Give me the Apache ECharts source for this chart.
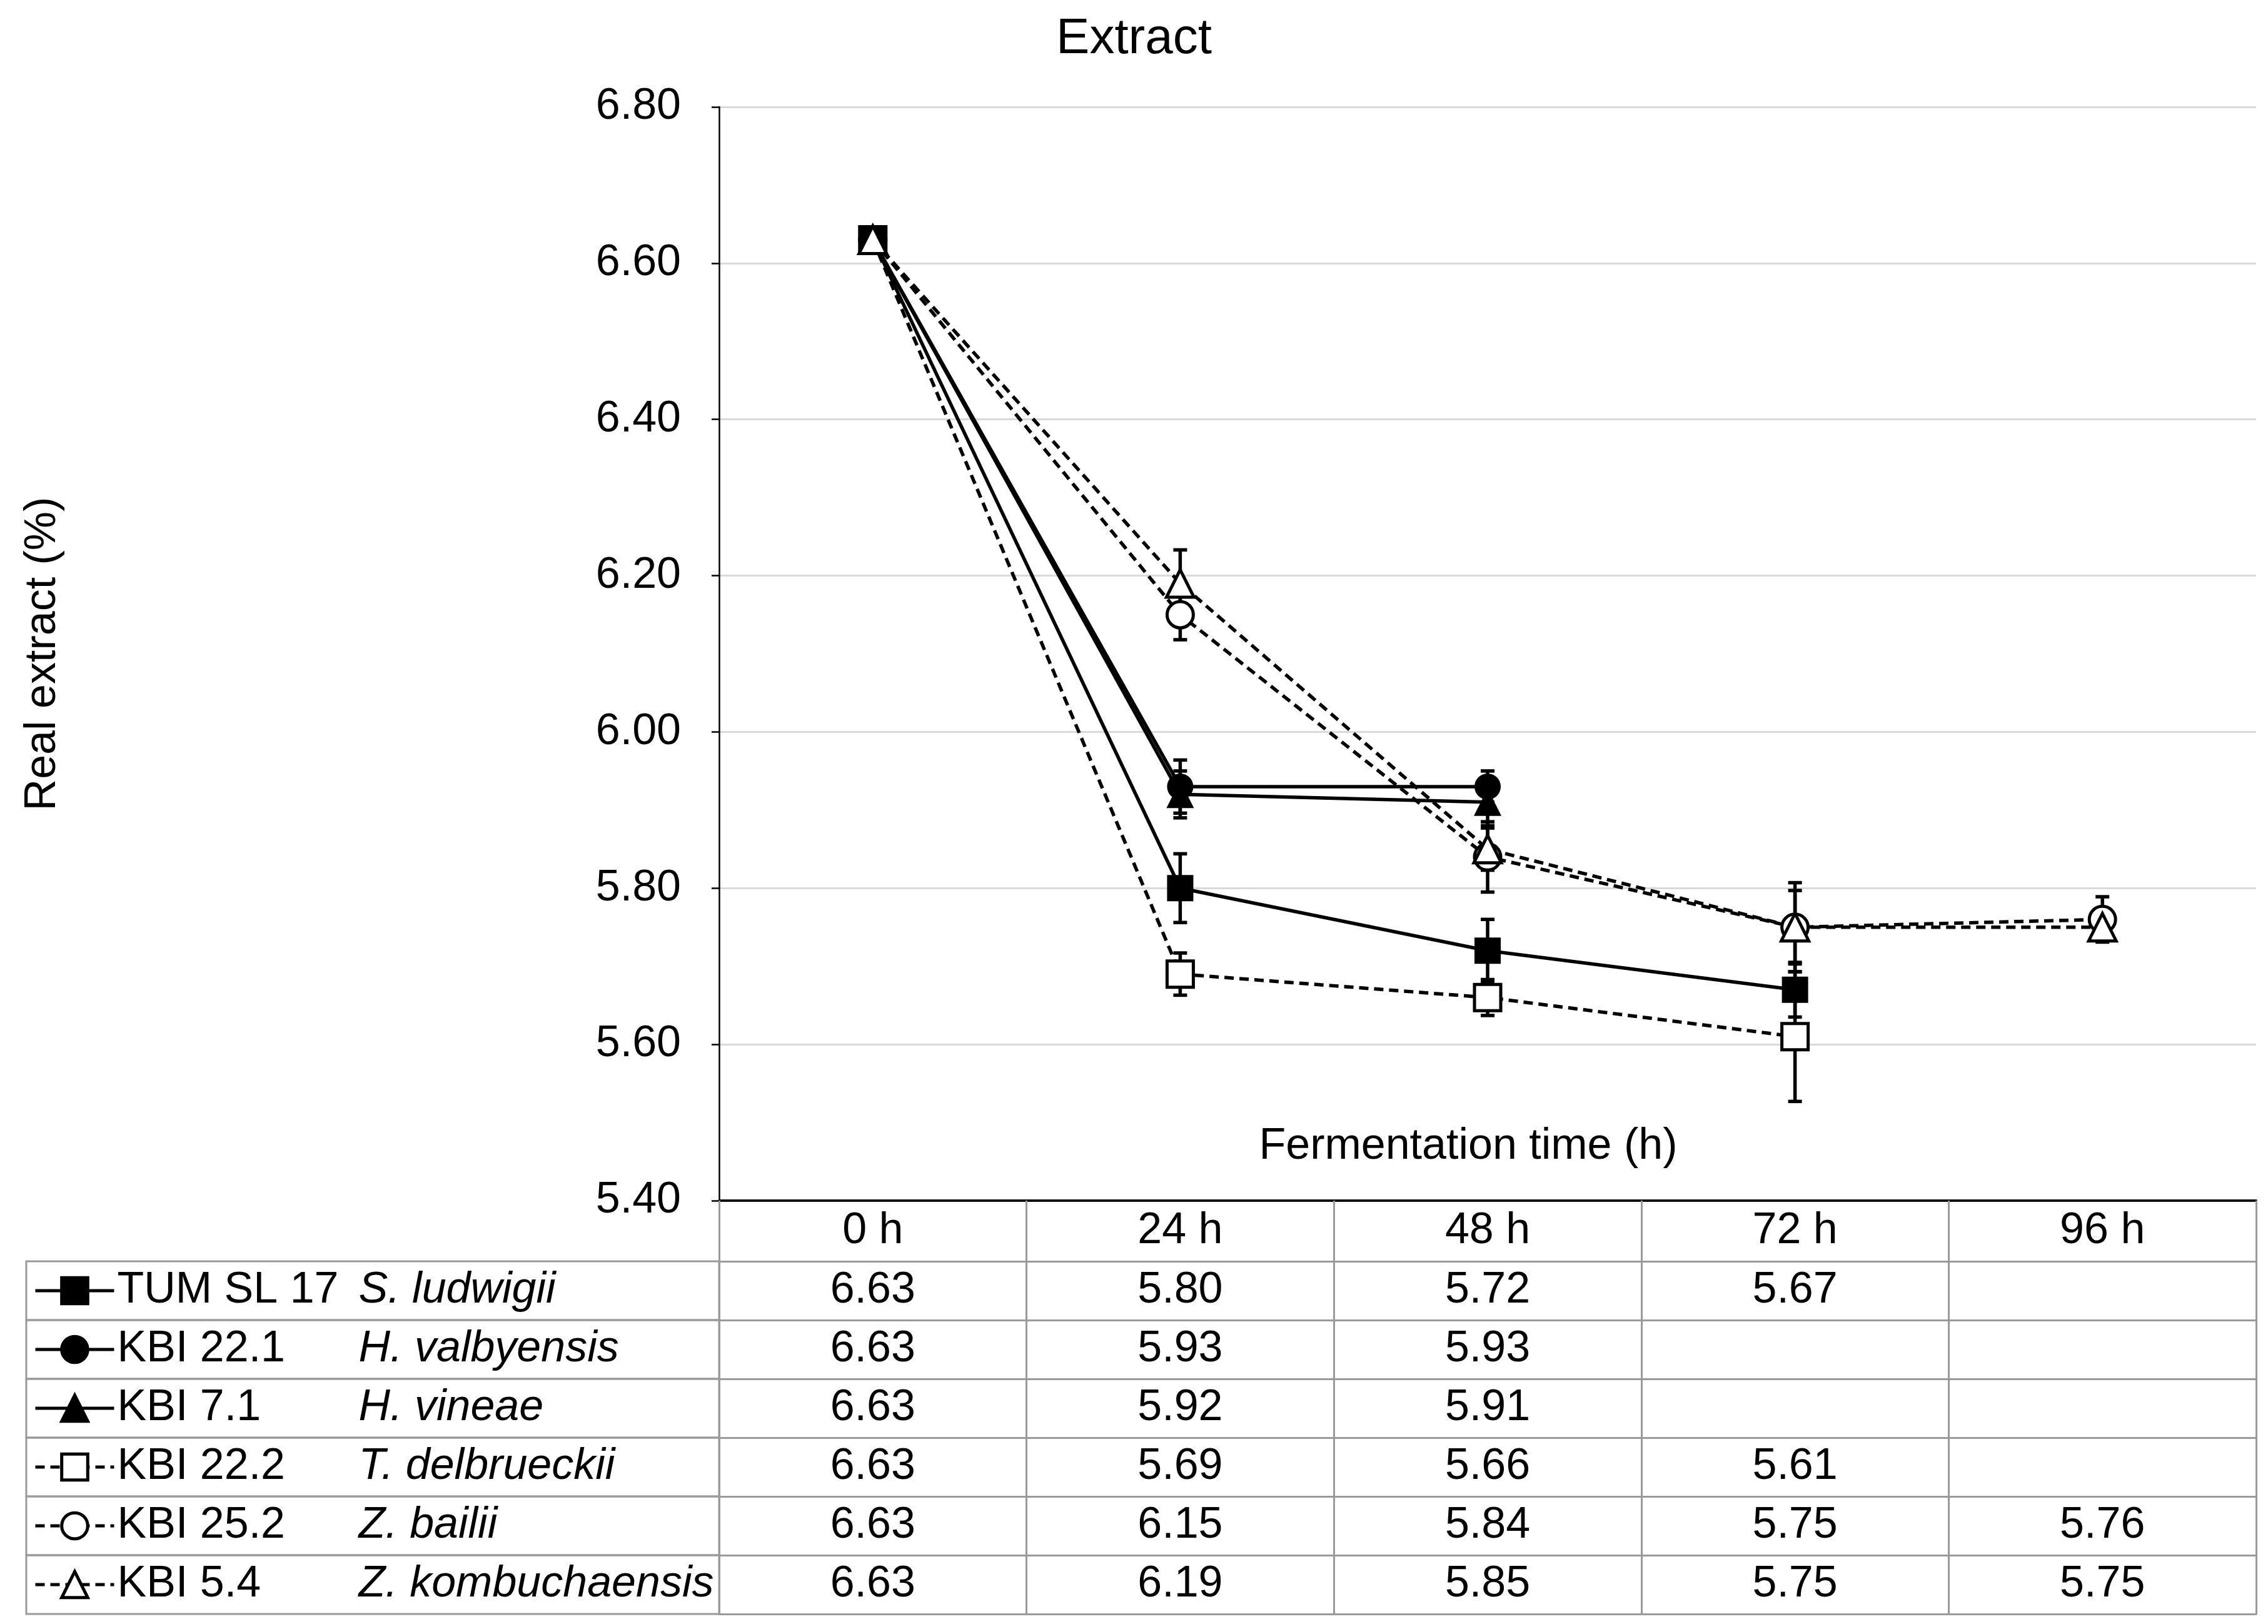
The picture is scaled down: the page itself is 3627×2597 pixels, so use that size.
<!DOCTYPE html>
<html>
<head>
<meta charset="utf-8">
<script src="https://cdn.jsdelivr.net/npm/echarts@6/dist/echarts.min.js"></script>
<style>html,body{margin:0;padding:0;background:#fff}#c{width:3627px;height:2597px}</style>
</head>
<body>
<div id="c"></div>
<script>
// ---- data ----
const categories = ['0 h', '24 h', '48 h', '72 h', '96 h'];
const strains = ['TUM SL 17', 'KBI 22.1', 'KBI 7.1', 'KBI 22.2', 'KBI 25.2', 'KBI 5.4'];
const species = ['S. ludwigii', 'H. valbyensis', 'H. vineae', 'T. delbrueckii', 'Z. bailii', 'Z. kombuchaensis'];

const tumSL17 = [6.63, 5.80, 5.72, 5.67, null];
const kbi221  = [6.63, 5.93, 5.93, null, null];
const kbi71   = [6.63, 5.92, 5.91, null, null];
const kbi222  = [6.63, 5.69, 5.66, 5.61, null];
const kbi252  = [6.63, 6.15, 5.84, 5.75, 5.76];
const kbi54   = [6.63, 6.19, 5.85, 5.75, 5.75];

// standard deviations (error bars)
const errTumSL17 = [0, 0.044, 0.040, 0.035, null];
const errKbi221  = [0, 0.034, 0.020, null, null];
const errKbi71   = [0, 0.030, 0.030, null, null];
const errKbi222  = [0, 0.027, 0.023, 0.083, null];
const errKbi252  = [0, 0.032, 0.045, 0.057, 0.029];
const errKbi54   = [0, 0.043, 0.027, 0.047, 0.010];

const yMin = 5.4, yMax = 6.8, yStep = 0.2;

const rows = [tumSL17, kbi221, kbi71, kbi222, kbi252, kbi54];
const errs = [errTumSL17, errKbi221, errKbi71, errKbi222, errKbi252, errKbi54];
const symbols = ['rect', 'circle', 'triangle', 'rect', 'circle', 'triangle'];
const filled = [true, true, true, false, false, false];

// ---- layout / style ----
const FONT = '"Liberation Sans", Arial, sans-serif';
const FS = 70;
const gridLeft = 1150, gridRight = 19, gridTop = 171, gridBottom = 677;
const headerH = 97, rowH = 94;
const tableLeft = 42;
const plotBottomY = 2597 - gridBottom;
const gray = '#9a9a9a';

const chart = echarts.init(document.getElementById('c'), null, {renderer: 'canvas'});

// x axes: main axis (header row) + one axis per table row + closing line
const xAxes = [{
  type: 'category', data: categories, position: 'bottom', boundaryGap: true,
  axisLine: {show: true, lineStyle: {color: '#111', width: 4}},
  axisTick: {show: true, length: headerH, interval: 0, alignWithLabel: false, lineStyle: {color: gray, width: 3}},
  axisLabel: {interval: 0, margin: headerH / 2, verticalAlign: 'middle', fontSize: FS, color: '#000', fontFamily: FONT},
  splitLine: {show: false},
  name: 'Fermentation time (h)', nameLocation: 'middle', nameGap: -86,
  nameTextStyle: {fontSize: FS, color: '#000', fontFamily: FONT, verticalAlign: 'middle', padding: [0, 62, 0, 0]}
}];
rows.forEach((r, i) => {
  xAxes.push({
    type: 'category', data: categories, position: 'bottom', boundaryGap: true,
    offset: headerH + i * rowH,
    axisLine: {show: true, lineStyle: {color: gray, width: 3}},
    axisTick: {show: true, length: rowH, interval: 0, lineStyle: {color: gray, width: 3}},
    axisLabel: {
      interval: 0, margin: rowH / 2, verticalAlign: 'middle', fontSize: FS, color: '#000', fontFamily: FONT,
      formatter: (v, idx) => (r[idx] == null ? '' : r[idx].toFixed(2))
    },
    splitLine: {show: false}
  });
});
xAxes.push({
  type: 'category', data: categories, position: 'bottom', boundaryGap: true,
  offset: headerH + rows.length * rowH,
  axisLine: {show: true, lineStyle: {color: gray, width: 3}},
  axisTick: {show: false}, axisLabel: {show: false}, splitLine: {show: false}
});

function lineSeries(i) {
  return {
    name: strains[i], type: 'line', xAxisIndex: 0, yAxisIndex: 0,
    data: rows[i], connectNulls: false,
    symbol: symbols[i], symbolSize: symbols[i] === 'triangle' ? 44 : 42, showSymbol: true,
    lineStyle: {color: '#000', width: 5.5, type: filled[i] ? 'solid' : [15, 9]},
    itemStyle: filled[i] ? {color: '#000', borderColor: '#000', borderWidth: 0}
                         : {color: '#fff', borderColor: '#000', borderWidth: 5},
    emphasis: {disabled: true},
    z: 3
  };
}

const errData = [];
rows.forEach((r, i) => {
  r.forEach((v, j) => {
    if (v != null && errs[i][j]) errData.push([j, v - errs[i][j], v + errs[i][j]]);
  });
});

const errSeries = {
  type: 'custom', xAxisIndex: 0, yAxisIndex: 0, z: 2,
  data: errData, encode: {x: 0, y: [1, 2]},
  renderItem: (params, api) => {
    const x = api.value(0);
    const top = api.coord([x, api.value(2)]);
    const bot = api.coord([x, api.value(1)]);
    const w = 22;
    const st = {stroke: '#000', lineWidth: 5.5};
    return {type: 'group', children: [
      {type: 'line', shape: {x1: top[0], y1: top[1], x2: bot[0], y2: bot[1]}, style: st},
      {type: 'line', shape: {x1: top[0] - w / 2, y1: top[1], x2: top[0] + w / 2, y2: top[1]}, style: st},
      {type: 'line', shape: {x1: bot[0] - w / 2, y1: bot[1], x2: bot[0] + w / 2, y2: bot[1]}, style: st}
    ]};
  }
};

// draw order: open square, open circle, filled circle, filled triangle, filled square, open triangle
const order = [3, 4, 1, 2, 0, 5];
const series = [errSeries].concat(order.map(lineSeries));

// left column of the table (row borders)
const graphics = [];
for (let i = 0; i < rows.length; i++) {
  graphics.push({
    type: 'rect', silent: true, z: 0,
    shape: {x: tableLeft, y: plotBottomY + headerH + i * rowH, width: gridLeft - tableLeft, height: rowH},
    style: {fill: 'none', stroke: gray, lineWidth: 3}
  });
}

chart.setOption({
  animation: false,
  backgroundColor: '#fff',
  title: {
    text: 'Extract', left: 'center', top: 18,
    textStyle: {fontSize: 80, fontWeight: 'normal', color: '#000', fontFamily: FONT}
  },
  grid: {left: gridLeft, right: gridRight, top: gridTop, bottom: gridBottom, containLabel: false, outerBoundsMode: 'none'},
  legend: {
    orient: 'vertical', left: 54, top: plotBottomY + headerH + (rowH - FS) / 2,
    itemWidth: 126, itemHeight: 52, itemGap: rowH - FS, padding: 0, selectedMode: false,
    data: strains,
    lineStyle: {width: 5},
    itemStyle: {borderWidth: 5},
    formatter: name => '{a|' + name + '}{b|' + species[strains.indexOf(name)] + '}',
    textStyle: {
      fontSize: FS, color: '#000', fontFamily: FONT,
      rich: {
        a: {width: 386, fontSize: FS, color: '#000', fontFamily: FONT},
        b: {fontSize: FS, fontStyle: 'italic', color: '#000', fontFamily: FONT}
      }
    }
  },
  xAxis: xAxes,
  yAxis: {
    type: 'value', min: yMin, max: yMax, interval: yStep,
    axisLine: {show: true, lineStyle: {color: '#000', width: 2.5}},
    axisTick: {show: true, length: 12, lineStyle: {color: '#000', width: 2.5}},
    axisLabel: {formatter: v => v.toFixed(2), fontSize: FS, color: '#000', fontFamily: FONT, margin: 61},
    splitLine: {show: true, lineStyle: {color: '#d9d9d9', width: 3}},
    name: 'Real extract (%)', nameLocation: 'middle', nameGap: 1081,
    nameTextStyle: {fontSize: FS, color: '#000', fontFamily: FONT, verticalAlign: 'middle'}
  },
  graphic: graphics,
  series: series
});
</script>
</body>
</html>
